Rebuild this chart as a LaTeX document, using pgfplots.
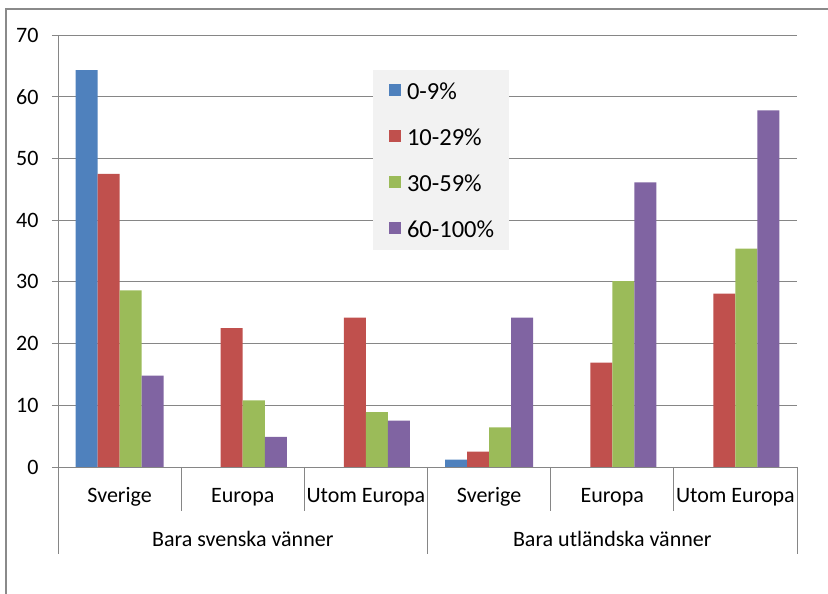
\documentclass[border=0pt]{standalone}
\usepackage{fontspec}
\setmainfont{Carlito}
\usepackage{pgfplots}
\pgfplotsset{compat=1.18}
\definecolor{cA}{HTML}{4F81BD}
\definecolor{cB}{HTML}{C0504D}
\definecolor{cC}{HTML}{9BBB59}
\definecolor{cD}{HTML}{8064A2}
\definecolor{gridc}{HTML}{868686}
\definecolor{framec}{HTML}{8A8A8A}
\definecolor{legbg}{HTML}{F2F2F2}
\pgfplotsset{myleg/.style={legend image code/.code={\path (0pt,0pt); \fill[##1] (7pt,-5pt) rectangle (19pt,7pt);}}}
\tikzset{sep/.style={gridc, line width=0.9pt}, cat/.style={anchor=base, font=\fontsize{22}{22}\selectfont, inner sep=0pt}}
\begin{document}
\begin{tikzpicture}[x=1pt,y=1pt]
\useasboundingbox (0,0) rectangle (828,594);
\draw[framec, line width=2pt] (6,0) -- (6,585) -- (828,585);
\begin{axis}[
  at={(58pt,127pt)}, anchor=south west,
  scale only axis, width=739pt, height=432pt,
  xmin=-0.5, xmax=5.5, ymin=0, ymax=70,
  ytick={0,10,...,70}, xtick=\empty,
  ymajorgrids, grid style={color=gridc, line width=0.9pt},
  axis x line*=bottom, axis y line*=left,
  axis line style={gridc, line width=0.9pt},
  major tick style={gridc, line width=0.9pt},
  tick align=outside, major tick length=6pt,
  /pgf/number format/assume math mode=true,
  yticklabel style={font=\fontsize{22}{22}\selectfont, text=black, xshift=-10pt},
  ybar=0pt, bar width=22pt,
  legend style={at={(0.426,0.919)}, anchor=north west, fill=legbg, draw=none,
    font=\fontsize{24.5}{24.5}\selectfont, inner xsep=9pt, inner ysep=9pt,
    row sep=22pt,
    nodes={inner xsep=6pt, inner ysep=0pt, text height=20pt, text depth=4pt}},
  legend cell align=left,
  clip=false,
]
\addplot[fill=cA, draw=none, myleg] coordinates {(0,64.3) (3,1.2)};
\addplot[fill=cB, draw=none, myleg] coordinates {(0,47.5) (1,22.5) (2,24.2) (3,2.5) (4,16.9) (5,28.1)};
\addplot[fill=cC, draw=none, myleg] coordinates {(0,28.6) (1,10.8) (2,8.9) (3,6.4) (4,30.1) (5,35.4)};
\addplot[fill=cD, draw=none, myleg] coordinates {(0,14.8) (1,4.9) (2,7.5) (3,24.2) (4,46.1) (5,57.8)};
\legend{0-9\%, 10-29\%, 30-59\%, 60-100\%}
% category separators
\draw[sep] (axis cs:0.5,0) -- ++(0pt,-44pt);
\draw[sep] (axis cs:1.5,0) -- ++(0pt,-44pt);
\draw[sep] (axis cs:3.5,0) -- ++(0pt,-44pt);
\draw[sep] (axis cs:4.5,0) -- ++(0pt,-44pt);
\draw[sep] (axis cs:-0.5,0) -- ++(0pt,-87pt);
\draw[sep] (axis cs:2.5,0) -- ++(0pt,-87pt);
\draw[sep] (axis cs:5.5,0) -- ++(0pt,-87pt);
% category labels
\node[cat] at ([yshift=-35.7pt]axis cs:0,0) {Sverige};
\node[cat] at ([yshift=-35.7pt]axis cs:1,0) {Europa};
\node[cat] at ([yshift=-35.7pt]axis cs:2,0) {Utom Europa};
\node[cat] at ([yshift=-35.7pt]axis cs:3,0) {Sverige};
\node[cat] at ([yshift=-35.7pt]axis cs:4,0) {Europa};
\node[cat] at ([yshift=-35.7pt]axis cs:5,0) {Utom Europa};
\node[cat] at ([yshift=-79.7pt]axis cs:1,0) {Bara svenska vänner};
\node[cat] at ([yshift=-79.7pt]axis cs:4,0) {Bara utländska vänner};
\end{axis}
\end{tikzpicture}
\end{document}
